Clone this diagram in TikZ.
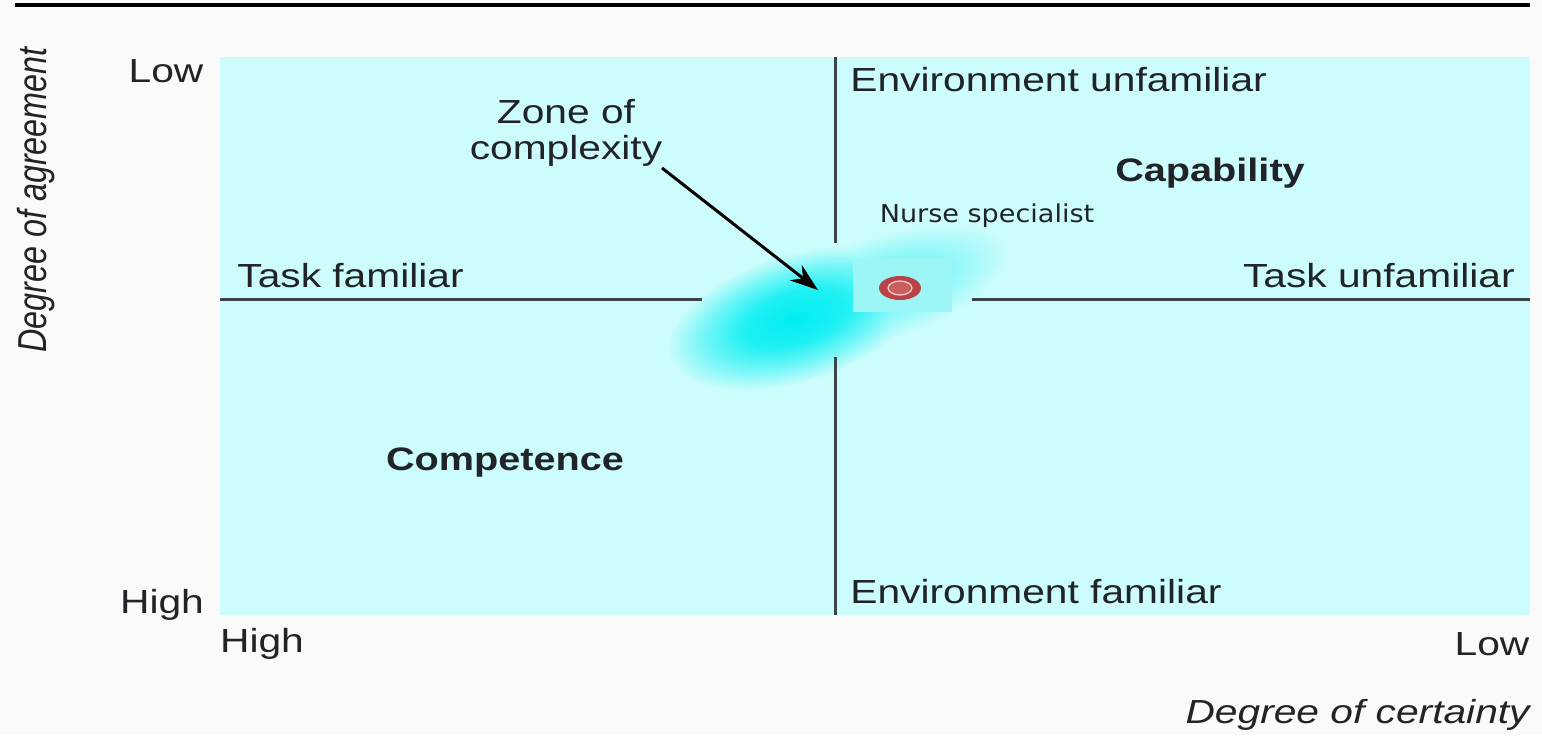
\documentclass[tikz,border=0pt]{standalone}
\usepackage{fontspec}
\setmainfont[FakeStretch=1.22]{Liberation Sans}
\newfontfamily\narrowfont[FakeStretch=0.8]{Liberation Sans}
\newfontfamily\smallfont[FakeStretch=1.1]{DejaVu Sans}
\usetikzlibrary{arrows.meta}
\definecolor{bgcyan}{HTML}{CCFCFC}
\definecolor{blobcyan}{HTML}{00EEF2}
\definecolor{boxcyan}{HTML}{9CF6F6}
\definecolor{ringred}{HTML}{B84448}
\definecolor{ringin}{HTML}{C86060}
\definecolor{linegray}{HTML}{3C4448}
\definecolor{textgray}{HTML}{202428}
\pgfdeclareradialshading{blobshade}{\pgfpoint{0bp}{0bp}}{color(0bp)=(blobcyan); color(8bp)=(blobcyan!85!bgcyan); color(14bp)=(blobcyan!45!bgcyan); color(20bp)=(bgcyan); color(50bp)=(bgcyan)}
\pgfdeclareradialshading{faintshade}{\pgfpoint{0bp}{0bp}}{color(0bp)=(blobcyan!55!bgcyan); color(10bp)=(blobcyan!35!bgcyan); color(20bp)=(bgcyan); color(50bp)=(bgcyan)}
\tikzset{
	lbl/.style={inner sep=0pt, font=\fontsize{19}{22}\selectfont, text=textgray},
	big/.style={lbl, font=\fontsize{18.5}{22}\selectfont\bfseries},
	axisline/.style={line width=1.7pt, linegray}
}
\begin{document}
\begin{tikzpicture}[x=0.02cm, y=-0.02cm]
	\useasboundingbox[fill=white!98!black] (0,0) rectangle (1542,735);
	
	%frame
	\draw[line width=1.8pt] (15,5) -- (1530,5);
	\fill[bgcyan] (220,57) rectangle (1530,615);
	
	%zone of complexity
	\begin{scope}[transform canvas={rotate around={18:(875,290)}}]
		\shade[shading=faintshade] (875,290) ellipse (175 and 65);
	\end{scope}
	\begin{scope}[transform canvas={rotate around={17:(795,318)}}, blend mode=darken]
		\shade[shading=blobshade] (795,318) ellipse (165 and 80);
	\end{scope}
	\fill[boxcyan] (853,258) rectangle (952,312);
	\fill[ringred] (900,288) ellipse (21 and 12);
	\fill[ringin] (900,288) ellipse (12 and 7);
	\draw[white!80!red, line width=0.7pt] (900,288) ellipse (12 and 7);
	
	%axis lines
	\coordinate (vt) at (835,57);
	\coordinate (vm1) at (835,243);
	\coordinate (vm2) at (835,357);
	\coordinate (vb) at (835,615);
	\coordinate (hl) at (220,299);
	\coordinate (hm1) at (702,299);
	\coordinate (hm2) at (972,299);
	\coordinate (hr) at (1530,299);
	\draw[axisline] (vt) -- (vm1);
	\draw[axisline] (vm2) -- (vb);
	\draw[axisline] (hl) -- (hm1);
	\draw[axisline] (hm2) -- (hr);
	
	%scale labels
	\node[lbl] (ylow) at (166,71){Low};
	\node[lbl] (yhigh) at (162,605){High};
	\node[lbl] (xhigh) at (262,644){High};
	\node[lbl] (xlow) at (1492,644){Low};
	\node[lbl, rotate=90, font=\fontsize{23}{26}\narrowfont\itshape] (yaxis) at (36,200){Degree of agreement};
	\node[lbl, anchor=east, font=\fontsize{19}{22}\selectfont\itshape] (xaxis) at (1530,715){Degree of certainty};
	
	%quadrant labels
	\node[lbl, anchor=west] (envu) at (850,80){Environment unfamiliar};
	\node[lbl, anchor=west] (envf) at (850,592){Environment familiar};
	\node[lbl, anchor=west] (taskf) at (237,276){Task familiar};
	\node[lbl, anchor=east] (tasku) at (1515,276){Task unfamiliar};
	\node[big] (capab) at (1210,173){Capability};
	\node[big] (compet) at (505,463){Competence};
	\node[lbl, font=\fontsize{14}{16}\smallfont] (nurse) at (987,216){Nurse specialist};
	\node[lbl, align=center, font=\fontsize{19}{20.5}\selectfont] (zone) at (566,133){Zone of\\complexity};
	\coordinate (zonetip) at (818,290);
	\draw[line width=1.7pt, -{Stealth[length=16pt, width=11pt]}] (662,168) -- (zonetip);
	
\end{tikzpicture}
\end{document}
